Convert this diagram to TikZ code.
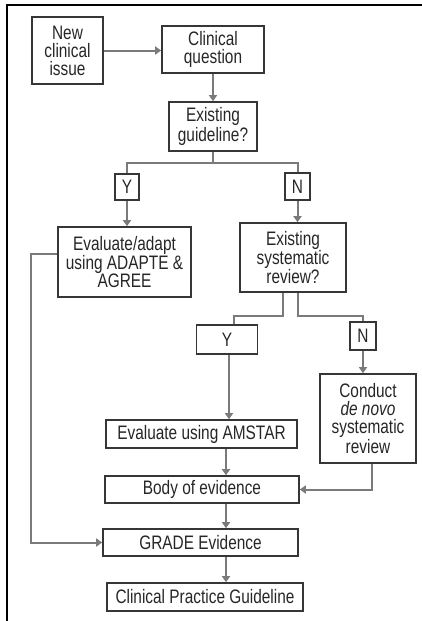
\documentclass[tikz,border=0pt]{standalone}
\usepackage{fontspec}
\setmainfont{Liberation Sans}[FakeStretch=0.79]
\usetikzlibrary{arrows.meta}
\definecolor{linegrey}{HTML}{7A7A7A}
\definecolor{boxgrey}{HTML}{363636}
\begin{document}
\begin{tikzpicture}[x=1pt,y=-1pt,
    box/.style={draw=boxgrey, line width=1.6pt, align=center, inner sep=0pt,
      text=black!85, font=\fontsize{19.5}{18}\selectfont},
    link/.style={draw=linegrey, line width=2pt},
    arr/.style={link, -{Triangle[width=8pt,length=6pt]}}]
      \useasboundingbox (0,0) rectangle (422,621);
      \draw[line width=1.2pt] (7,621) -- (7,5) -- (422,5);
      \node[box, minimum width=71pt, minimum height=67pt] (issue) at (67.5,50.5) {New\\clinical\\issue};
      \node[box, minimum width=102pt, minimum height=47pt] (question) at (213,49.5) {Clinical\\question};
      \node[box, minimum width=88pt, minimum height=49pt] (guide) at (213,126.5) {Existing\\guideline?};
      \node[box, minimum width=24pt, minimum height=26pt] (y1) at (127,187) {Y};
      \node[box, minimum width=25pt, minimum height=27pt] (n1) at (297.5,186.5) {N};
      \node[box, minimum width=133pt, minimum height=70pt] (adapt) at (124.5,262) {Evaluate/adapt\\using ADAPTE \&\\AGREE};
      \node[box, minimum width=106pt, minimum height=69pt] (review) at (293,257.5) {Existing\\systematic\\review?};
      \node[box, minimum width=61pt, minimum height=29pt] (y2) at (227,339.5) {Y};
      \node[box, minimum width=26pt, minimum height=28pt] (n2) at (363,336) {N};
      \node[box, minimum width=96pt, minimum height=89pt] (denovo) at (368,418.5) {Conduct\\\textit{de novo}\\systematic\\review};
      \node[box, minimum width=191pt, minimum height=28pt] (amstar) at (201.5,434) {Evaluate using AMSTAR};
      \node[box, minimum width=194pt, minimum height=27pt] (body) at (202,489.5) {Body of evidence};
      \node[box, minimum width=195pt, minimum height=27pt] (grade) at (200.5,542.5) {GRADE Evidence};
      \node[box, minimum width=196pt, minimum height=28pt] (cpg) at (205,597) {Clinical Practice Guideline};
      \coordinate (split) at (213,163);
      \coordinate (trunk) at (226,0);
      \draw[arr] (issue.east) -- (issue.east -| question.west);
      \draw[arr] (question) -- (guide);
      \draw[link] (guide.south) -- (split);
      \draw[link] (split) -| (y1.north);
      \draw[link] (split) -| (n1.north);
      \draw[arr] (y1.south) -- (y1.south |- adapt.north);
      \draw[arr] (n1.south) -- (n1.south |- review.north);
      \draw[link] ([xshift=-10pt]review.south) -- ++(0,23) -| ([xshift=7pt]y2.north);
      \draw[link] ([xshift=5pt]review.south) -- ++(0,23) -| (n2.north);
      \draw[arr] ([xshift=2pt]y2.south) -- ([xshift=2pt]y2.south |- amstar.north);
      \draw[arr] (n2.south) -- (n2.south |- denovo.north);
      \draw[arr] (amstar.south -| trunk) -- (body.north -| trunk);
      \draw[arr] ([xshift=4pt]denovo.south) |- (body.east);
      \draw[arr] (body.south -| trunk) -- (grade.north -| trunk);
      \draw[arr] (grade.south -| trunk) -- (cpg.north -| trunk);
      \draw[arr] ([yshift=8pt]adapt.west) -- ++(-26,0) |- (grade.west);
\end{tikzpicture}
\end{document}
